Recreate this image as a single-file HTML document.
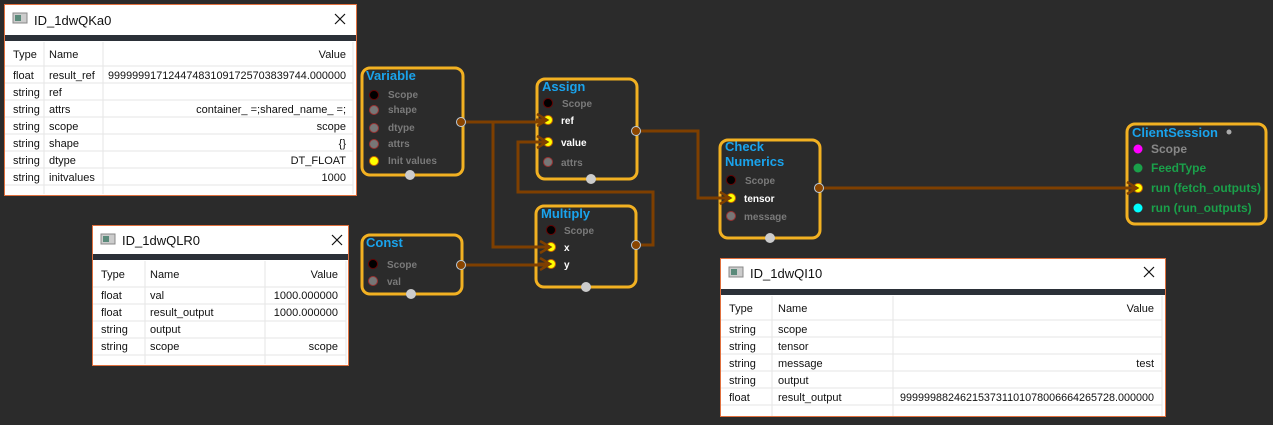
<!DOCTYPE html>
<html><head><meta charset="utf-8"><style>
html,body{margin:0;padding:0;background:#2b2b2b;}
svg{display:block;}
.t{font-family:"Liberation Sans",sans-serif;font-size:11px;fill:#111;}
.ti{font-family:"Liberation Sans",sans-serif;font-size:13px;fill:#111;}
.nt{font-family:"Liberation Sans",sans-serif;font-size:13px;font-weight:bold;fill:#1aa3ec;}
.pl{font-family:"Liberation Sans",sans-serif;font-size:10px;font-weight:bold;fill:#7a7a7a;}
.pw{font-family:"Liberation Sans",sans-serif;font-size:10px;font-weight:bold;fill:#ffffff;}
.pg{font-family:"Liberation Sans",sans-serif;font-size:12px;font-weight:bold;fill:#1aa04a;}
.pgg{font-family:"Liberation Sans",sans-serif;font-size:12px;font-weight:bold;fill:#888;}
.node{fill:#2b2b2b;stroke:#f2b122;stroke-width:3;}
.w{fill:none;stroke:#7e3f00;stroke-width:3;}
.g{stroke:#e6e6e6;stroke-width:1;}
</style></head><body>
<svg width="1273" height="425" viewBox="0 0 1273 425" xmlns="http://www.w3.org/2000/svg">
<rect width="1273" height="425" fill="#2b2b2b"/>

<!-- Panel 1 -->
<rect x="4.5" y="4.5" width="352" height="191" fill="#fff" stroke="#e0703e"/>
<rect x="13" y="13" width="14" height="10" fill="#ccc" stroke="#888"/><rect x="15" y="15" width="6" height="6" fill="#5a8a7a"/>
<text class="ti" x="34" y="25">ID_1dwQKa0</text>
<path d="M335 14 L345 24 M345 14 L335 24" stroke="#111" stroke-width="1.2"/>
<rect x="5" y="35" width="351" height="6" fill="#2b3038"/>
<line class="g" x1="44" y1="42" x2="44" y2="194"/><line class="g" x1="103" y1="42" x2="103" y2="194"/>
<line class="g" x1="353" y1="42" x2="353" y2="194"/>
<g>
<line class="g" x1="5" y1="66" x2="353" y2="66"/><line class="g" x1="5" y1="83" x2="353" y2="83"/>
<line class="g" x1="5" y1="100" x2="353" y2="100"/><line class="g" x1="5" y1="117" x2="353" y2="117"/>
<line class="g" x1="5" y1="134" x2="353" y2="134"/><line class="g" x1="5" y1="151" x2="353" y2="151"/>
<line class="g" x1="5" y1="168" x2="353" y2="168"/><line class="g" x1="5" y1="185" x2="353" y2="185"/>
</g>
<text class="t" x="13" y="58">Type</text><text class="t" x="49" y="58">Name</text><text class="t" x="346" y="58" text-anchor="end">Value</text>
<text class="t" x="13" y="79">float</text><text class="t" x="49" y="79">result_ref</text><text class="t" x="108" y="79" textLength="238" lengthAdjust="spacingAndGlyphs">999999917124474831091725703839744.000000</text>
<text class="t" x="13" y="96">string</text><text class="t" x="49" y="96">ref</text>
<text class="t" x="13" y="113">string</text><text class="t" x="49" y="113">attrs</text><text class="t" x="346" y="113" text-anchor="end">container_ =;shared_name_ =;</text>
<text class="t" x="13" y="130">string</text><text class="t" x="49" y="130">scope</text><text class="t" x="346" y="130" text-anchor="end">scope</text>
<text class="t" x="13" y="147">string</text><text class="t" x="49" y="147">shape</text><text class="t" x="346" y="147" text-anchor="end">{}</text>
<text class="t" x="13" y="164">string</text><text class="t" x="49" y="164">dtype</text><text class="t" x="346" y="164" text-anchor="end">DT_FLOAT</text>
<text class="t" x="13" y="181">string</text><text class="t" x="49" y="181">initvalues</text><text class="t" x="346" y="181" text-anchor="end">1000</text>

<!-- Panel 2 -->
<rect x="92.5" y="225.5" width="256" height="140" fill="#fff" stroke="#e0703e"/>
<rect x="101" y="234" width="14" height="10" fill="#ccc" stroke="#888"/><rect x="103" y="236" width="6" height="6" fill="#5a8a7a"/>
<text class="ti" x="122" y="245">ID_1dwQLR0</text>
<path d="M332 235 L342 245 M342 235 L332 245" stroke="#111" stroke-width="1.2"/>
<rect x="93" y="254" width="255" height="6" fill="#2b3038"/>
<line class="g" x1="145" y1="261" x2="145" y2="364"/><line class="g" x1="265" y1="261" x2="265" y2="364"/><line class="g" x1="346" y1="261" x2="346" y2="364"/>
<line class="g" x1="93" y1="287" x2="346" y2="287"/><line class="g" x1="93" y1="304" x2="346" y2="304"/>
<line class="g" x1="93" y1="321" x2="346" y2="321"/><line class="g" x1="93" y1="338" x2="346" y2="338"/><line class="g" x1="93" y1="355" x2="346" y2="355"/>
<text class="t" x="101" y="278">Type</text><text class="t" x="150" y="278">Name</text><text class="t" x="338" y="278" text-anchor="end">Value</text>
<text class="t" x="101" y="299">float</text><text class="t" x="150" y="299">val</text><text class="t" x="338" y="299" text-anchor="end">1000.000000</text>
<text class="t" x="101" y="316">float</text><text class="t" x="150" y="316">result_output</text><text class="t" x="338" y="316" text-anchor="end">1000.000000</text>
<text class="t" x="101" y="333">string</text><text class="t" x="150" y="333">output</text>
<text class="t" x="101" y="350">string</text><text class="t" x="150" y="350">scope</text><text class="t" x="338" y="350" text-anchor="end">scope</text>

<!-- Panel 3 -->
<rect x="720.5" y="258.5" width="445" height="158" fill="#fff" stroke="#e0703e"/>
<rect x="729" y="267" width="14" height="10" fill="#ccc" stroke="#888"/><rect x="731" y="269" width="6" height="6" fill="#5a8a7a"/>
<text class="ti" x="750" y="278">ID_1dwQI10</text>
<path d="M1144 267 L1154 277 M1154 267 L1144 277" stroke="#111" stroke-width="1.2"/>
<rect x="721" y="289" width="444" height="6" fill="#2b3038"/>
<line class="g" x1="772" y1="296" x2="772" y2="416"/><line class="g" x1="893" y1="296" x2="893" y2="416"/><line class="g" x1="1162" y1="296" x2="1162" y2="416"/>
<line class="g" x1="721" y1="320" x2="1162" y2="320"/><line class="g" x1="721" y1="337" x2="1162" y2="337"/>
<line class="g" x1="721" y1="354" x2="1162" y2="354"/><line class="g" x1="721" y1="371" x2="1162" y2="371"/>
<line class="g" x1="721" y1="388" x2="1162" y2="388"/><line class="g" x1="721" y1="405" x2="1162" y2="405"/>
<text class="t" x="729" y="312">Type</text><text class="t" x="778" y="312">Name</text><text class="t" x="1154" y="312" text-anchor="end">Value</text>
<text class="t" x="729" y="333">string</text><text class="t" x="778" y="333">scope</text>
<text class="t" x="729" y="350">string</text><text class="t" x="778" y="350">tensor</text>
<text class="t" x="729" y="367">string</text><text class="t" x="778" y="367">message</text><text class="t" x="1154" y="367" text-anchor="end">test</text>
<text class="t" x="729" y="384">string</text><text class="t" x="778" y="384">output</text>
<text class="t" x="729" y="401">float</text><text class="t" x="778" y="401">result_output</text><text class="t" x="900" y="401" textLength="254" lengthAdjust="spacingAndGlyphs">999999882462153731101078006664265728.000000</text>

<!-- Node frames -->
<rect class="node" x="362" y="68" width="101" height="107" rx="8"/>
<rect class="node" x="362" y="235" width="100" height="59" rx="8"/>
<rect class="node" x="537" y="79" width="100" height="100" rx="8"/>
<rect class="node" x="536" y="206" width="100" height="81" rx="8"/>
<rect class="node" x="720" y="140" width="100" height="98" rx="8"/>
<rect class="node" x="1127" y="124" width="139" height="100" rx="8"/>

<!-- Wires -->
<path class="w" d="M461 122 H545"/>
<path class="w" d="M493 122 V247 H545"/>
<path class="w" d="M461 265 H545"/>
<path class="w" d="M636 245 H653 V192 H518 V142 H545"/>
<path class="w" d="M636 131 H698 V198 H730"/>
<path class="w" d="M819 188 H1137"/>

<!-- Variable -->
<text class="nt" x="366" y="80">Variable</text>
<circle cx="374" cy="95" r="4.5" fill="#000" stroke="#600"/><text class="pl" x="388" y="98">Scope</text>
<circle cx="374" cy="110" r="4.5" fill="#777" stroke="#933"/><text class="pl" x="388" y="113">shape</text>
<circle cx="374" cy="128" r="4.5" fill="#777" stroke="#933"/><text class="pl" x="388" y="131">dtype</text>
<circle cx="374" cy="144" r="4.5" fill="#777" stroke="#933"/><text class="pl" x="388" y="147">attrs</text>
<circle cx="374" cy="161" r="4.5" fill="#ff0" stroke="#c60"/><text class="pl" x="388" y="164">Init values</text>
<circle cx="461" cy="122" r="4.5" fill="#8a4500" stroke="#bcd"/>
<circle cx="410" cy="175" r="5" fill="#ccc"/>

<!-- Const -->
<text class="nt" x="366" y="247">Const</text>
<circle cx="373" cy="264" r="4.5" fill="#000" stroke="#600"/><text class="pl" x="387" y="268">Scope</text>
<circle cx="373" cy="281" r="4.5" fill="#777" stroke="#933"/><text class="pl" x="387" y="285">val</text>
<circle cx="461" cy="265" r="4.5" fill="#8a4500" stroke="#bcd"/>
<circle cx="411" cy="294" r="5" fill="#ccc"/>

<!-- Assign -->
<text class="nt" x="542" y="91">Assign</text>
<circle cx="548" cy="103" r="4.5" fill="#000" stroke="#600"/><text class="pl" x="562" y="107">Scope</text>
<circle cx="548" cy="120" r="4.5" fill="#ff0" stroke="#c60"/><text class="pw" x="561" y="124">ref</text>
<circle cx="548" cy="142" r="4.5" fill="#ff0" stroke="#c60"/><text class="pw" x="561" y="146">value</text>
<circle cx="548" cy="162" r="4.5" fill="#777" stroke="#933"/><text class="pl" x="561" y="166">attrs</text>
<circle cx="636" cy="131" r="4.5" fill="#8a4500" stroke="#bcd"/>
<circle cx="591" cy="179" r="5" fill="#ccc"/>

<!-- Multiply -->
<text class="nt" x="541" y="218">Multiply</text>
<circle cx="551" cy="230" r="4.5" fill="#000" stroke="#600"/><text class="pl" x="564" y="234">Scope</text>
<circle cx="551" cy="247" r="4.5" fill="#ff0" stroke="#c60"/><text class="pw" x="564" y="251">x</text>
<circle cx="551" cy="264" r="4.5" fill="#ff0" stroke="#c60"/><text class="pw" x="564" y="268">y</text>
<circle cx="636" cy="245" r="4.5" fill="#8a4500" stroke="#bcd"/>
<circle cx="586" cy="287" r="5" fill="#ccc"/>

<!-- Check Numerics -->
<text class="nt" x="725" y="151">Check</text>
<text class="nt" x="725" y="166">Numerics</text>
<circle cx="731" cy="180" r="4.5" fill="#000" stroke="#600"/><text class="pl" x="745" y="184">Scope</text>
<circle cx="731" cy="198" r="4.5" fill="#ff0" stroke="#c60"/><text class="pw" x="744" y="202">tensor</text>
<circle cx="731" cy="216" r="4.5" fill="#777" stroke="#933"/><text class="pl" x="744" y="220">message</text>
<circle cx="819" cy="188" r="4.5" fill="#8a4500" stroke="#bcd"/>
<circle cx="770" cy="238" r="5" fill="#ccc"/>

<!-- ClientSession -->
<text class="nt" x="1132" y="137">ClientSession</text>
<circle cx="1229" cy="132" r="2.5" fill="#aaa"/>
<circle cx="1138" cy="149" r="4.5" fill="#f0f"/><text class="pgg" x="1151" y="153">Scope</text>
<circle cx="1138" cy="168" r="4.5" fill="#1aa04a"/><text class="pg" x="1151" y="172">FeedType</text>
<circle cx="1138" cy="188" r="4.5" fill="#ff0" stroke="#c60"/><text class="pg" x="1151" y="192">run (fetch_outputs)</text>
<circle cx="1138" cy="208" r="4.5" fill="#0ff"/><text class="pg" x="1151" y="212">run (run_outputs)</text>

<!-- Arrowheads -->
<g fill="none" stroke="#7e3f00" stroke-width="2.5">
<path d="M537 114 L547 120 L537 126"/><path d="M537 136 L547 142 L537 148"/>
<path d="M540 241 L550 247 L540 253"/><path d="M540 258 L550 264 L540 270"/>
<path d="M720 192 L730 198 L720 204"/><path d="M1127 182 L1137 188 L1127 194"/>
</g>
<g stroke="#7e3f00" stroke-width="3">
<line x1="536" y1="120" x2="546" y2="120"/><line x1="536" y1="142" x2="546" y2="142"/>
<line x1="538" y1="247" x2="549" y2="247"/><line x1="538" y1="264" x2="549" y2="264"/>
<line x1="718" y1="198" x2="729" y2="198"/><line x1="1125" y1="188" x2="1136" y2="188"/>
</g>
</svg>
</body></html>
